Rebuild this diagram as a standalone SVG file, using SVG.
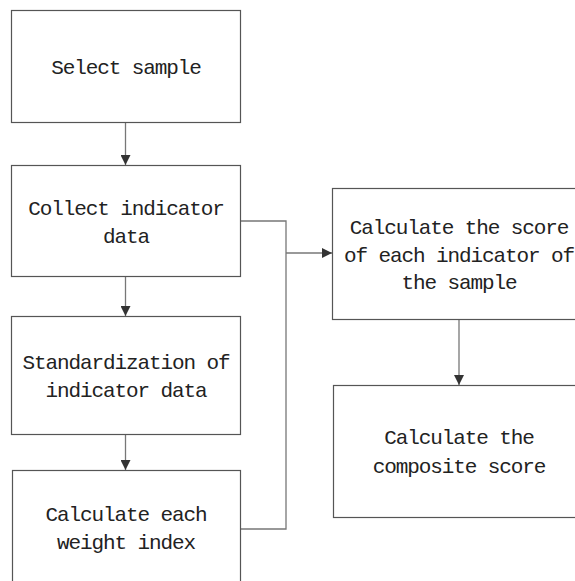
<svg xmlns="http://www.w3.org/2000/svg" width="575" height="581" viewBox="0 0 575 581">
<style>
.box{fill:#fff;stroke:#555;stroke-width:1.2}
.t{font-family:"Liberation Mono",monospace;font-size:21px;letter-spacing:-1.1px;fill:#222;text-anchor:middle}
.c{fill:none;stroke:#777;stroke-width:1.3}
</style>
<defs>
<marker id="ah" markerWidth="10" markerHeight="10" refX="10" refY="5" orient="auto" markerUnits="userSpaceOnUse">
<path d="M0,0 L10,5 L0,10 Z" fill="#333"/>
</marker>
</defs>
<rect width="575" height="581" fill="#fff"/>
<g id="connectors">
<line class="c" x1="125.5" y1="122" x2="125.5" y2="165" marker-end="url(#ah)"/>
<line class="c" x1="125.5" y1="277" x2="125.5" y2="316" marker-end="url(#ah)"/>
<line class="c" x1="125.5" y1="434" x2="125.5" y2="470" marker-end="url(#ah)"/>
<polyline class="c" points="240,221 286,221 286,529 240,529"/>
<line class="c" x1="286" y1="253" x2="332" y2="253" marker-end="url(#ah)"/>
<line class="c" x1="459" y1="319" x2="459" y2="385" marker-end="url(#ah)"/>
</g>
<g id="n1"><rect class="box" x="11.5" y="10.5" width="229" height="112"/><text class="t" x="126" y="74">Select sample</text></g>
<g id="n2"><rect class="box" x="11.5" y="165.5" width="229" height="111"/><text class="t" x="126" y="215">Collect indicator</text><text class="t" x="126" y="243">data</text></g>
<g id="n3"><rect class="box" x="11.5" y="316.5" width="229" height="118"/><text class="t" x="126" y="369">Standardization of</text><text class="t" x="126" y="397">indicator data</text></g>
<g id="n4"><rect class="box" x="12.5" y="470.5" width="228" height="130"/><text class="t" x="126" y="521">Calculate each</text><text class="t" x="126" y="549">weight index</text></g>
<g id="n5"><rect class="box" x="332.5" y="188.5" width="260" height="131"/><text class="t" x="459" y="234">Calculate the score</text><text class="t" x="459" y="262">of each indicator of</text><text class="t" x="459" y="289">the sample</text></g>
<g id="n6"><rect class="box" x="333.5" y="385.5" width="260" height="132"/><text class="t" x="459" y="444">Calculate the</text><text class="t" x="459" y="473">composite score</text></g>
</svg>
